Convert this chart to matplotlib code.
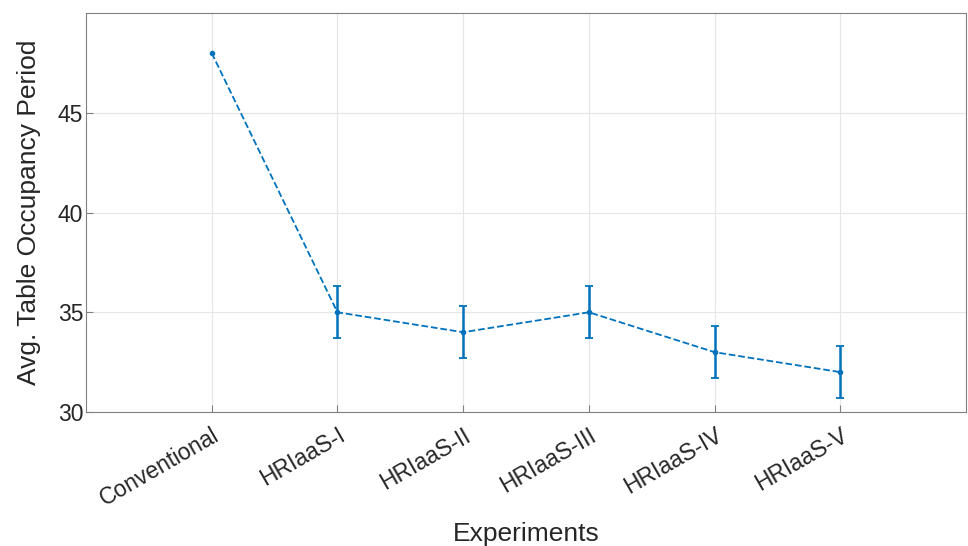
import matplotlib
matplotlib.use("Agg")
import matplotlib.pyplot as plt
from matplotlib.transforms import ScaledTranslation

categories = ["Conventional", "HRIaaS-I", "HRIaaS-II", "HRIaaS-III", "HRIaaS-IV", "HRIaaS-V"]
values = [48, 35, 34, 35, 33, 32]
errors = [0, 1.3, 1.3, 1.3, 1.3, 1.3]
yticks = [30, 35, 40, 45]

plt.rcParams['font.family'] = ['Liberation Sans', 'DejaVu Sans']
color = '#0072BD'
txt = '#262626'

fig = plt.figure(figsize=(9.68, 5.46), dpi=100)
ax = fig.add_axes([0.0888, 0.2454, 0.9092, 0.7306])

x = list(range(1, len(categories) + 1))
ax.plot(x, values, color=color, linestyle='--', linewidth=1.3,
        marker='.', markersize=6, zorder=3)
ex = [xi for xi, e in zip(x, errors) if e > 0]
ev = [v for v, e in zip(values, errors) if e > 0]
ee = [e for e in errors if e > 0]
ax.errorbar(ex, ev, yerr=ee, color=color, linestyle='none',
            capsize=3, elinewidth=1.8, capthick=1.3, zorder=3)

ax.set_xlim(0, 7)
ax.set_ylim(30, 50)
ax.set_xticks(x)
ax.set_xticklabels(categories, rotation=30, ha='right', rotation_mode='anchor',
                   fontsize=16.5, color=txt)
offset = ScaledTranslation(7 / 100, 0, fig.dpi_scale_trans)
for lab in ax.get_xticklabels():
    lab.set_transform(lab.get_transform() + offset)
ax.set_yticks(yticks)
ax.tick_params(axis='y', labelsize=16.5, labelcolor=txt, pad=2)
ax.tick_params(direction='in', length=5, color='#808080', width=0.8)
ax.tick_params(axis='x', pad=8.5)
ax.grid(True, color='#e6e6e6', linewidth=0.8)
ax.set_axisbelow(True)
for s in ax.spines.values():
    s.set_color('#808080')
    s.set_linewidth(0.8)

ax.set_xlabel("Experiments", fontsize=19, color=txt, labelpad=8.5)
ax.set_ylabel("Avg. Table Occupancy Period", fontsize=19, color=txt, labelpad=12)

fig.savefig("out.png", dpi=100)
